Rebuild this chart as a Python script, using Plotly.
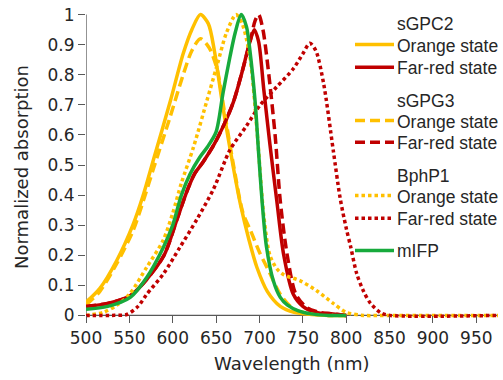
import plotly.graph_objects as go

# ---------------- data ----------------
sgpc2_orange_wl = [500, 516, 535, 554, 566, 578, 597, 612, 622, 632, 641, 648, 658, 670, 678, 688, 697, 709, 724, 740, 760, 780, 800]
sgpc2_orange_v = [0.044, 0.09, 0.18, 0.30, 0.40, 0.52, 0.71, 0.87, 0.95, 1.0, 0.97, 0.88, 0.69, 0.49, 0.37, 0.25, 0.16, 0.08, 0.03, 0.01, 0.003, 0.0, 0.0]

sgpc2_farred_wl = [500, 525, 551, 570, 590, 605, 616, 625, 635, 648, 660, 670, 680, 688, 694, 699, 705, 712, 720, 728, 739, 750, 765, 785, 800]
sgpc2_farred_v = [0.03, 0.04, 0.065, 0.12, 0.20, 0.32, 0.41, 0.47, 0.51, 0.57, 0.64, 0.71, 0.81, 0.90, 0.95, 0.91, 0.75, 0.57, 0.38, 0.20, 0.07, 0.03, 0.01, 0.005, 0.0]

sgpg3_orange_wl = [500, 516, 535, 554, 566, 578, 597, 612, 622, 632, 642, 651, 660, 670, 681, 690, 700, 712, 724, 740, 760, 780, 800]
sgpg3_orange_v = [0.035, 0.08, 0.17, 0.28, 0.38, 0.49, 0.66, 0.80, 0.88, 0.92, 0.89, 0.82, 0.67, 0.50, 0.34, 0.28, 0.21, 0.14, 0.07, 0.02, 0.005, 0.0, 0.0]

sgpg3_farred_wl = [500, 525, 551, 570, 590, 605, 616, 625, 635, 648, 660, 670, 680, 690, 695, 699, 704, 710, 718, 724, 732, 742, 755, 770, 785, 800]
sgpg3_farred_v = [0.03, 0.04, 0.065, 0.12, 0.20, 0.32, 0.41, 0.47, 0.51, 0.57, 0.64, 0.71, 0.81, 0.92, 0.98, 1.0, 0.95, 0.82, 0.60, 0.38, 0.20, 0.07, 0.025, 0.01, 0.005, 0.0]

bphp1_orange_wl = [500, 520, 535, 550, 570, 589, 600, 610, 624, 639, 651, 662, 673, 680, 689, 697, 705, 712, 720, 728, 747, 766, 785, 800, 820, 850, 975]
bphp1_orange_v = [0.0, 0.01, 0.033, 0.07, 0.16, 0.25, 0.34, 0.44, 0.56, 0.71, 0.83, 0.94, 1.0, 0.97, 0.86, 0.62, 0.33, 0.20, 0.155, 0.135, 0.115, 0.082, 0.04, 0.01, 0.0, 0.0, 0.0]

bphp1_farred_wl = [500, 530, 547, 560, 570, 589, 608, 628, 647, 666, 685, 701, 720, 739, 750, 758, 765, 774, 785, 793, 800, 805, 812, 820, 828, 840, 850, 975]
bphp1_farred_v = [0.0, 0.0, 0.003, 0.03, 0.07, 0.137, 0.225, 0.32, 0.42, 0.55, 0.63, 0.70, 0.76, 0.82, 0.87, 0.905, 0.88, 0.77, 0.55, 0.39, 0.29, 0.23, 0.14, 0.08, 0.04, 0.008, 0.0, 0.0]

mifp_wl = [500, 525, 551, 570, 589, 600, 610, 620, 631, 640, 650, 658, 666, 672, 679, 685, 689, 695, 699, 703, 708, 716, 724, 732, 745, 760, 780, 800]
mifp_v = [0.02, 0.03, 0.06, 0.126, 0.225, 0.30, 0.40, 0.47, 0.525, 0.56, 0.61, 0.74, 0.86, 0.94, 1.0, 0.96, 0.88, 0.71, 0.54, 0.38, 0.23, 0.115, 0.06, 0.035, 0.015, 0.005, 0.0, 0.0]

x_ticks = [500, 550, 600, 650, 700, 750, 800, 850, 900, 950]
y_ticks = [0, 0.1, 0.2, 0.3, 0.4, 0.5, 0.6, 0.7, 0.8, 0.9, 1]
y_ticktext = ["0", "0.1", "0.2", "0.3", "0.4", "0.5", "0.6", "0.7", "0.8", "0.9", "1"]

# ---------------- style ----------------
ORANGE = "#FFC000"
RED = "#C00000"
GREEN = "#17AA3C"
AXIS = "#595959"
TEXT = "#262626"
LW = 3.5
DASH = "10px,5px"
DOT = "3.5px,3px"

series = [
    (sgpc2_orange_wl, sgpc2_orange_v, ORANGE, "solid", "sGPC2 Orange state"),
    (sgpc2_farred_wl, sgpc2_farred_v, RED, "solid", "sGPC2 Far-red state"),
    (sgpg3_orange_wl, sgpg3_orange_v, ORANGE, DASH, "sGPG3 Orange state"),
    (sgpg3_farred_wl, sgpg3_farred_v, RED, DASH, "sGPG3 Far-red state"),
    (bphp1_orange_wl, bphp1_orange_v, ORANGE, DOT, "BphP1 Orange state"),
    (bphp1_farred_wl, bphp1_farred_v, RED, DOT, "BphP1 Far-red state"),
    (mifp_wl, mifp_v, GREEN, "solid", "mIFP"),
]

fig = go.Figure()
for wl, v, col, dash, name in series:
    fig.add_trace(go.Scatter(x=wl, y=v, mode="lines", name=name, showlegend=False,
                             line=dict(color=col, width=LW, dash=dash, shape="spline", smoothing=0.8)))

W, H = 503, 380
L, R, T, B = 86, 5, 7, 61
PW, PH = W - L - R, H - T - B
YMIN, YMAX = -0.012, 1.012


def px(xp):
    return (xp - L) / PW


def py(yp):
    return (H - B - yp) / PH


shapes = [
    dict(type="line", xref="x", yref="y", x0=500, x1=975, y0=0, y1=0, line=dict(color=AXIS, width=1.3), layer="below"),
    dict(type="line", xref="x", yref="y", x0=500, x1=500, y0=0, y1=1, line=dict(color=AXIS, width=1.3), layer="below"),
]
annotations = []

legend_font = dict(family="Liberation Sans, Arial", size=17.5, color=TEXT)
legend_rows = [
    ("header", "sGPC2", 19.5, None, None),
    ("item", "Orange state", 41, ORANGE, "solid"),
    ("item", "Far-red state", 64, RED, "solid"),
    ("header", "sGPG3", 97.5, None, None),
    ("item", "Orange state", 118, ORANGE, DASH),
    ("item", "Far-red state", 140, RED, DASH),
    ("header", "BphP1", 173.5, None, None),
    ("item", "Orange state", 194, ORANGE, DOT),
    ("item", "Far-red state", 217, RED, DOT),
    ("item", "mIFP", 249.5, GREEN, "solid"),
]
for kind, label, ypix, col, dash in legend_rows:
    if kind == "item":
        shapes.append(dict(type="line", xref="paper", yref="paper", x0=px(355), x1=px(394),
                           y0=py(ypix), y1=py(ypix), line=dict(color=col, width=LW, dash=dash)))
    annotations.append(dict(text=label, xref="paper", yref="paper", x=px(395), y=py(ypix + 1),
                            xanchor="left", yanchor="middle", showarrow=False, font=legend_font))

title_font = dict(family="DejaVu Sans", size=18, color=TEXT)
annotations.append(dict(text="Wavelength (nm)", xref="paper", yref="paper", x=px(292), y=py(364),
                        xanchor="center", yanchor="middle", showarrow=False, font=title_font))
annotations.append(dict(text="Normalized absorption", xref="paper", yref="paper", x=px(22), y=py(165),
                        xanchor="center", yanchor="middle", showarrow=False, textangle=-90, font=title_font))

tick_font = dict(family="DejaVu Sans", size=17, color=TEXT)
fig.update_layout(
    width=W, height=H,
    margin=dict(l=L, r=R, t=T, b=B),
    paper_bgcolor="white", plot_bgcolor="white",
    showlegend=False,
    shapes=shapes, annotations=annotations,
    xaxis=dict(range=[500, 975], tickvals=x_ticks, ticks="outside", ticklen=7, tickwidth=1.3,
               tickcolor=AXIS, showline=False, showgrid=False, zeroline=False,
               anchor="free", position=(0 - YMIN) / (YMAX - YMIN), tickfont=tick_font,
               ticklabeloverflow="allow"),
    yaxis=dict(range=[YMIN, YMAX], tickvals=y_ticks, ticktext=y_ticktext, ticks="outside", ticklen=7,
               tickwidth=1.3, tickcolor=AXIS, showline=False, showgrid=False, zeroline=False,
               tickfont=tick_font, ticklabeloverflow="allow"),
)

fig.write_html("out.html", config={"displayModeBar": False},
               post_script="document.body.style.margin='0';document.body.style.padding='0';")
